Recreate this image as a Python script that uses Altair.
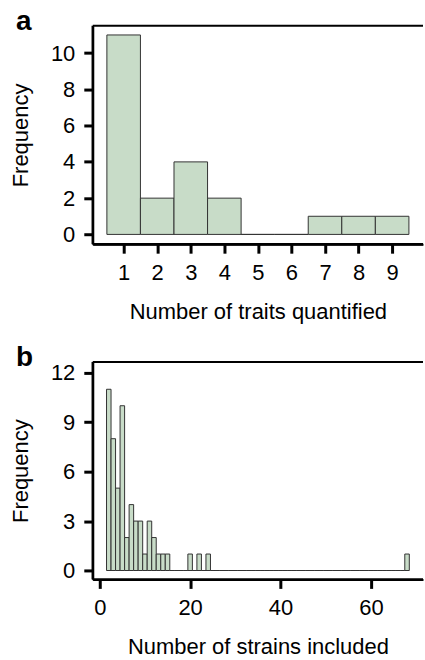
import altair as alt
import pandas as pd

# Panel a: number of traits quantified
traits = [1, 2, 3, 4, 5, 6, 7, 8, 9]
freq_a = [11, 2, 4, 2, 0, 0, 1, 1, 1]

# Panel b: number of strains included (bins of width 1, values 2..68)
strains = list(range(2, 69))
freq_b = ([11, 8, 5, 10, 2, 4, 3, 3, 1, 3, 2, 1, 1, 1]   # 2..15
          + [0, 0, 0, 0]                                   # 16..19
          + [1, 0, 1, 0, 1]                                # 20..24
          + [0] * 43                                       # 25..67
          + [1])                                           # 68

xticks_a = [1, 2, 3, 4, 5, 6, 7, 8, 9]
yticks_a = [0, 2, 4, 6, 8, 10]
xticks_b = [0, 20, 40, 60]
yticks_b = [0, 3, 6, 9, 12]

FILL = "#c8dcc8"
EDGE = "#333333"
FONT = "Liberation Sans"
W = 331

df_a = pd.DataFrame({"v": traits, "f": freq_a})
df_a["lo"] = df_a["v"] - 0.5
df_a["hi"] = df_a["v"] + 0.5
df_a["base"] = 0

df_b = pd.DataFrame({"v": strains, "f": freq_b})
df_b["lo"] = df_b["v"] - 0.5
df_b["hi"] = df_b["v"] + 0.5
df_b["base"] = 0


def panel(df, letter, xdom, ydom, xt, yt, xtitle, h):
    xs = alt.Scale(domain=xdom, nice=False, zero=False)
    ys = alt.Scale(domain=ydom, nice=False, zero=False)
    bars = alt.Chart(df).mark_rect(fill=FILL, stroke=EDGE, strokeWidth=1).encode(
        x=alt.X("lo:Q", scale=xs, axis=alt.Axis(values=xt, title=xtitle)),
        x2="hi:Q",
        y=alt.Y("f:Q", scale=ys, axis=alt.Axis(values=yt, title="Frequency")),
        y2="base:Q",
    )
    one = pd.DataFrame({"k": [0]})
    top = alt.Chart(one).mark_rule(color="black", strokeWidth=2).encode(
        x=alt.value(0), x2=alt.value(W), y=alt.value(0)
    )
    left = alt.Chart(one).mark_rule(color="black", strokeWidth=2.5, clip=False).encode(
        x=alt.datum(xdom[0], scale=xs), y=alt.datum(ydom[0], scale=ys),
        y2=alt.datum(ydom[1])
    )
    bottom = alt.Chart(one).mark_rule(color="black", strokeWidth=2.5, clip=False).encode(
        x=alt.datum(xdom[0], scale=xs), x2=alt.datum(xdom[1]),
        y=alt.datum(ydom[0], scale=ys)
    )
    lab = alt.Chart(pd.DataFrame({"t": [letter]})).mark_text(
        fontSize=28, fontWeight="bold", align="left", baseline="alphabetic",
        font=FONT, color="black"
    ).encode(text="t:N", x=alt.value(-77), y=alt.value(4))
    return alt.layer(bars, top, left, bottom, lab).properties(width=W, height=h)


pa = panel(df_a, "a", [0.08, 9.92], [-0.54, 11.51], xticks_a, yticks_a,
           "Number of traits quantified", 219)
pb = panel(df_b, "b", [-1.54, 71.53], [-0.54, 12.66], xticks_b, yticks_b,
           "Number of strains included", 218)

chart = alt.vconcat(pa, pb, spacing=22).properties(
    padding={"left": 9, "top": 7, "right": 0, "bottom": 0}
).configure(font=FONT).configure_view(stroke=None).configure_axis(
    domain=True, domainColor="black", domainWidth=2, tickColor="black", tickWidth=3, tickSize=9,
    labelFont=FONT, labelFontSize=22, labelColor="black", labelPadding=9,
    titleFont=FONT, titleFontSize=22, titleFontWeight="normal", titleColor="black",
    titlePadding=18, grid=False, labelFlush=False
)

chart.save("out.html", embed_options={"renderer": "svg", "actions": False})
